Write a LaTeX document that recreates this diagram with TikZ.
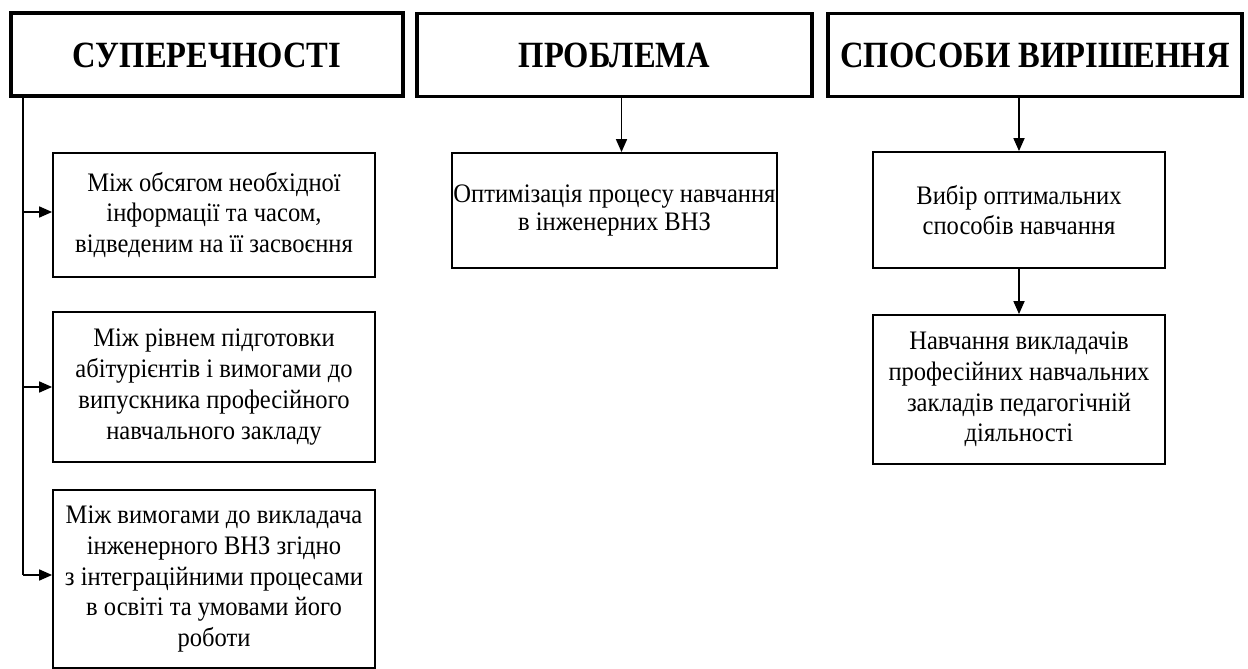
\documentclass[tikz,border=0pt]{standalone}
\usepackage{fontspec}
\setmainfont{Liberation Serif}[FakeStretch=0.92]
\newfontfamily\hdrfont{Liberation Serif}[FakeStretch=0.88]
\usetikzlibrary{arrows.meta}
\tikzset{
  hdr/.style={draw, line width=3.8pt, align=center, inner sep=0pt,
    text height=25pt, text depth=0pt,
    font=\hdrfont\fontsize{37}{40}\selectfont\bfseries},
  txtbox/.style={draw, line width=1.8pt, align=center, inner sep=0pt,
    font=\fontsize{26.7}{30.7}\selectfont},
  arr/.style={line width=1.7pt, -{Triangle[length=13pt,width=11pt]}},
  ln/.style={line width=1.7pt}
}
\begin{document}
\begin{tikzpicture}[x=1pt,y=-1pt]
\useasboundingbox (0,0) rectangle (1248,669);
\node[hdr, minimum width=392pt, minimum height=83pt] (h1) at (207,54.5) {СУПЕРЕЧНОСТІ};
\node[hdr, minimum width=395pt, minimum height=83pt] (h2) at (614.5,55) {ПРОБЛЕМА};
\node[hdr, minimum width=414pt, minimum height=83pt] (h3) at (1035,55) {СПОСОБИ ВИРІШЕННЯ};

\node[txtbox, minimum width=322pt, minimum height=124pt] (a) at (214,215) {Між обсягом необхідної\\інформації та часом,\\відведеним на її засвоєння};
\node[txtbox, minimum width=322pt, minimum height=150pt] (b) at (214,387) {Між рівнем підготовки\\абітурієнтів і вимогами до\\випускника професійного\\навчального закладу};
\node[txtbox, minimum width=322pt, minimum height=178pt] (c) at (214,579) {Між вимогами до викладача\\інженерного ВНЗ згідно\\з інтеграційними процесами\\в освіті та умовами його\\роботи};

\node[txtbox, minimum width=325pt, minimum height=115pt] (m) at (614.5,210.5) {\raisebox{-3pt}{\shortstack{Оптимізація процесу навчання\\[1pt]в інженерних ВНЗ}}};

\node[txtbox, minimum width=292pt, minimum height=116pt] (d) at (1019,210) {Вибір оптимальних\\способів навчання};
\node[txtbox, minimum width=292pt, minimum height=149pt] (e) at (1019,389.5) {Навчання викладачів\\професійних навчальних\\закладів педагогічній\\діяльності};

\coordinate (t0) at ([xshift=14pt]h1.south west);
\coordinate (t1) at (t0 |- 0,212);
\coordinate (t2) at (t0 |- 0,387);
\coordinate (t3) at (t0 |- 0,575);
\draw[ln] (t0) -- (t3);
\draw[arr] (t1) -- (t1 -| a.west);
\draw[arr] (t2) -- (t2 -| b.west);
\draw[arr] (t3) -- (t3 -| c.west);

\draw[arr] ([xshift=7pt]h2.south) -- ([xshift=7pt]m.north);
\draw[arr] ([xshift=-16pt]h3.south) -- (d.north);
\draw[arr] (d.south) -- (e.north);
\end{tikzpicture}
\end{document}
